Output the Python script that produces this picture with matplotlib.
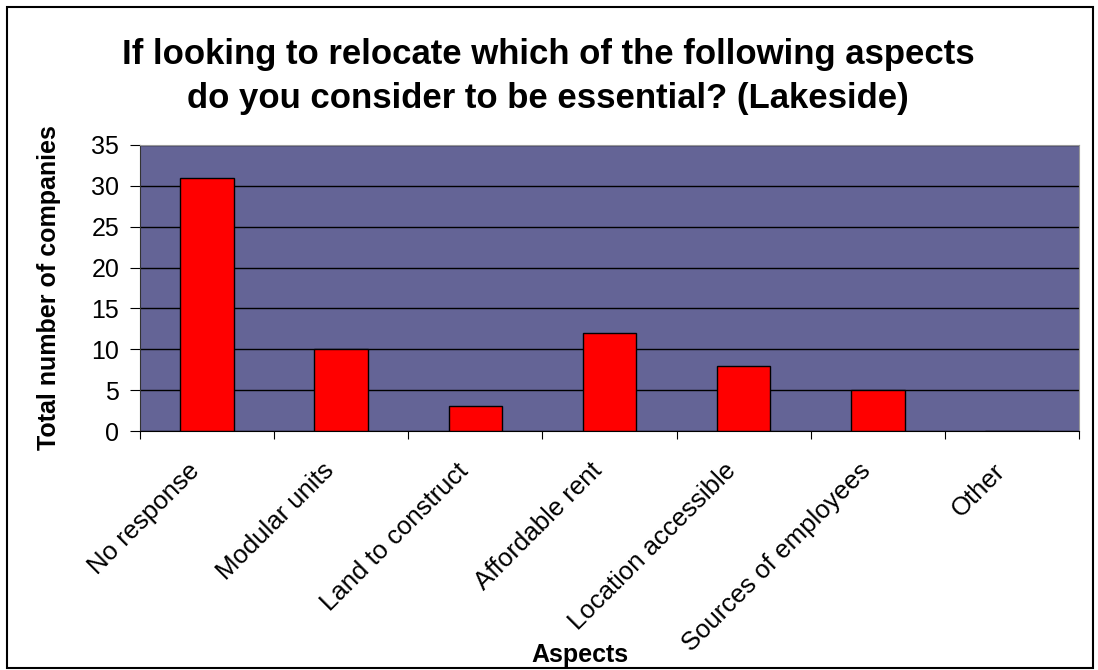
import matplotlib.pyplot as plt
from matplotlib.patches import Rectangle
from matplotlib.transforms import ScaledTranslation

plt.rcParams["font.family"] = ["Liberation Sans", "DejaVu Sans"]

# Data
aspects = ["No response", "Modular units", "Land to construct", "Affordable rent",
           "Location accessible", "Sources of employees", "Other"]
companies = [31, 10, 3, 12, 8, 5, 0]

fig = plt.figure(figsize=(10.98, 6.70), dpi=100)
ax = fig.add_axes([0.1275, 0.3567, 0.8552, 0.4269])

x = list(range(len(aspects)))
ax.bar(x, companies, width=0.4, color="#ff0000", edgecolor="black", linewidth=1, zorder=3)

ax.set_facecolor("#646496")
ax.set_xlim(-0.5, len(aspects) - 0.5)
ax.set_ylim(0, 35)
ax.set_yticks(range(0, 36, 5))
ax.yaxis.grid(True, color="black", linewidth=1, zorder=1)

# category ticks at boundaries, labels centered
ax.set_xticks([i - 0.5 for i in range(len(aspects) + 1)])
ax.set_xticklabels([])
ax.set_xticks(x, minor=True)
ax.set_xticklabels(aspects, minor=True, rotation=45, ha="right", va="top",
                   rotation_mode="anchor", fontsize=18.5)
ax.tick_params(axis="x", which="minor", length=0, pad=8)
ax.tick_params(axis="x", which="major", length=6, direction="out")
ax.tick_params(axis="y", labelsize=18, length=7, pad=8, direction="out")

# shift rotated labels down-left like the original
shift = ScaledTranslation(-14 / 72, -12 / 72, fig.dpi_scale_trans)
for lbl in ax.get_xticklabels(minor=True):
    lbl.set_transform(lbl.get_transform() + shift)

for s in ["top", "right"]:
    ax.spines[s].set_color("#999999")
ax.spines["left"].set_color("#333333")
ax.spines["bottom"].set_color("black")

ax.set_ylabel("Total number of companies", fontsize=18, fontweight="bold", labelpad=22)
fig.text(0.528, 0.022, "Aspects", fontsize=18, fontweight="bold", ha="center", va="center")

fig.text(0.499, 0.886, "If looking to relocate which of the following aspects\ndo you consider to be essential? (Lakeside)",
         fontsize=25, fontweight="bold", ha="center", va="center", linespacing=1.4)

# outer chart border
fig.patches.append(Rectangle((0.006, 0.003), 0.989, 0.987, transform=fig.transFigure,
                             fill=False, edgecolor="black", linewidth=1.5))

fig.savefig("out.png", dpi=100)
